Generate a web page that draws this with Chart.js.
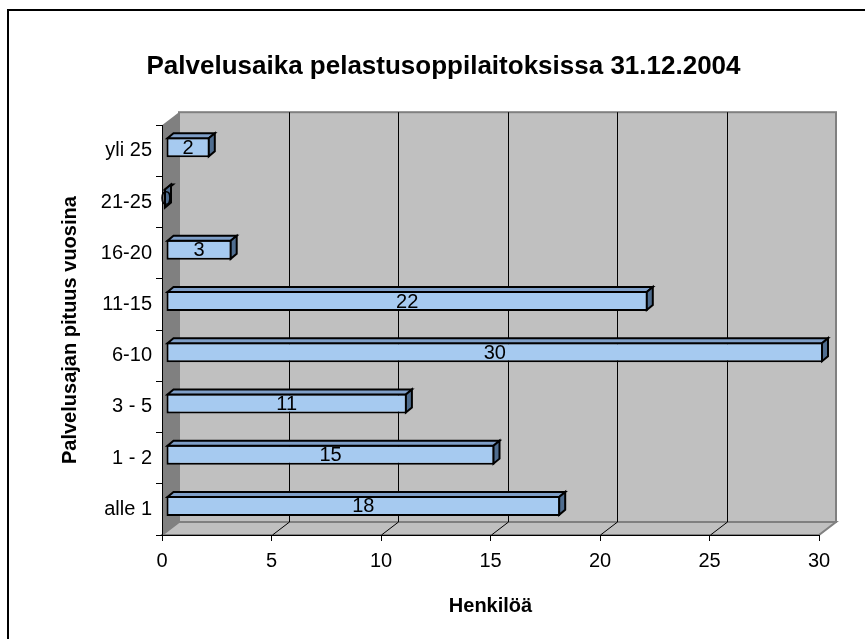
<!DOCTYPE html>
<html>
<head>
<meta charset="utf-8">
<script src="https://cdn.jsdelivr.net/npm/chart.js@4"></script>
<style>
	html, body { margin: 0; padding: 0; background: #fff; }
	#wrap { width: 865px; height: 639px; position: relative; }
</style>
</head>
<body>
<div id="wrap"><canvas id="chart"></canvas></div>
<script>
const categories = ['alle 1', '1 - 2', '3 - 5', '6-10', '11-15', '16-20', '21-25', 'yli 25'];
const henkiloa = [18, 15, 11, 30, 22, 3, 0, 2];
const xTicks = [0, 5, 10, 15, 20, 25, 30];

const FONT = "'Liberation Sans', Arial, sans-serif";
const DX = 17, DY = 13;       // wall depth
const BDX = 6, BDY = 5;       // bar depth
const SHIFT_X = 4, SHIFT_Y = -3.5;

const walls = {
	id: 'walls',
	beforeDraw: (chart) => {
		const ctx = chart.ctx;
		const {left, right, top, bottom} = chart.chartArea;
		const xs = chart.scales.x;
		ctx.save();
		ctx.fillStyle = '#fff';
		ctx.fillRect(0, 0, chart.width, chart.height);

		// outer frame
		ctx.strokeStyle = '#000';
		ctx.lineWidth = 2;
		ctx.strokeRect(8, 10, chart.width + 20, chart.height + 20);

		// back wall
		ctx.fillStyle = '#c0c0c0';
		ctx.fillRect(left + DX, top - DY, right - left, bottom - top);
		ctx.strokeStyle = '#808080';
		ctx.lineWidth = 2;
		ctx.strokeRect(left + DX, top - DY, right - left, bottom - top);

		// floor
		ctx.beginPath();
		ctx.moveTo(left, bottom);
		ctx.lineTo(left + DX, bottom - DY);
		ctx.lineTo(right + DX, bottom - DY);
		ctx.lineTo(right, bottom);
		ctx.closePath();
		ctx.fillStyle = '#c0c0c0';
		ctx.fill();
		ctx.strokeStyle = '#808080';
		ctx.stroke();

		// side wall
		ctx.beginPath();
		ctx.moveTo(left, top);
		ctx.lineTo(left + DX, top - DY);
		ctx.lineTo(left + DX, bottom - DY);
		ctx.lineTo(left, bottom);
		ctx.closePath();
		ctx.fillStyle = '#808080';
		ctx.fill();

		// gridlines on back wall + floor
		ctx.strokeStyle = '#000';
		ctx.lineWidth = 1;
		xTicks.forEach(v => {
			if (v === xTicks[0] || v === xTicks[xTicks.length - 1]) return;
			const px = Math.round(xs.getPixelForValue(v)) + 0.5;
			ctx.beginPath();
			ctx.moveTo(px + DX, top - DY);
			ctx.lineTo(px + DX, bottom - DY);
			ctx.lineTo(px, bottom);
			ctx.stroke();
		});
		ctx.restore();
	}
};

const bars3d = {
	id: 'bars3d',
	beforeDatasetsDraw: (chart) => {
		chart.ctx.save();
		chart.ctx.translate(SHIFT_X, SHIFT_Y);
	},
	afterDatasetsDraw: (chart) => {
		const ctx = chart.ctx;
		const meta = chart.getDatasetMeta(0);
		ctx.lineWidth = 2;
		ctx.lineJoin = 'miter';
		ctx.strokeStyle = '#000';
		meta.data.forEach((bar, i) => {
			const p = bar.getProps(['x', 'y', 'base', 'height'], true);
			const l = p.base, r = p.x, t = p.y - p.height / 2 + 1, b = p.y + p.height / 2 - 1;
			ctx.beginPath();
			ctx.moveTo(l + 1, t);
			ctx.lineTo(l + 1 + BDX, t - BDY);
			ctx.lineTo(r - 1 + BDX, t - BDY);
			ctx.lineTo(r - 1, t);
			ctx.closePath();
			ctx.fillStyle = '#7f9fc8';
			ctx.fill();
			ctx.stroke();
			ctx.beginPath();
			ctx.moveTo(r - 1, t);
			ctx.lineTo(r - 1 + BDX, t - BDY);
			ctx.lineTo(r - 1 + BDX, b - BDY);
			ctx.lineTo(r - 1, b);
			ctx.closePath();
			ctx.fillStyle = '#4f6d8f';
			ctx.fill();
			ctx.stroke();

			ctx.fillStyle = '#000';
			ctx.font = '20px ' + FONT;
			ctx.textAlign = 'center';
			ctx.textBaseline = 'middle';
			ctx.fillText(String(henkiloa[i]), (l + r) / 2, p.y + 1);
		});
		ctx.restore();
	}
};

new Chart(document.getElementById('chart'), {
	type: 'bar',
	data: {
		labels: categories,
		datasets: [{
			data: henkiloa,
			backgroundColor: '#a6caf0',
			borderColor: '#000',
			borderWidth: 2,
			borderSkipped: false,
			categoryPercentage: 1,
			barPercentage: 0.39,
		}]
	},
	options: {
		indexAxis: 'y',
		responsive: true,
		maintainAspectRatio: false,
		animation: false,
		layout: { padding: { left: 68, right: 46, top: 0, bottom: 0 } },
		scales: {
			x: {
				min: 0,
				max: 30,
				afterBuildTicks: (s) => { s.ticks = xTicks.map(v => ({value: v})); },
				afterFit: (s) => { s.height = 104; },
				grid: { drawOnChartArea: false, drawTicks: true, tickLength: 6, color: '#000' },
				border: { display: true, color: '#000', width: 1 },
				ticks: { color: '#000', font: { size: 20, family: FONT }, padding: 8, maxRotation: 0 },
				title: {
					display: true,
					text: 'Henkilöä',
					color: '#000',
					font: { size: 20, weight: 'bold', family: FONT },
					padding: { top: 0, bottom: 21 }
				}
			},
			y: {
				reverse: true,
				afterFit: (s) => { s.width = 94; },
				grid: { drawOnChartArea: false, drawTicks: true, tickLength: 6, color: '#000', offset: true },
				border: { display: true, color: '#000', width: 1 },
				ticks: { color: '#000', font: { size: 20, family: FONT }, padding: 4 },
				title: {
					display: true,
					text: 'Palvelusajan pituus vuosina',
					color: '#000',
					font: { size: 20, weight: 'bold', family: FONT },
					padding: { top: -10, bottom: 0 }
				}
			}
		},
		plugins: {
			legend: { display: false },
			tooltip: { enabled: false },
			title: {
				display: true,
				text: 'Palvelusaika pelastusoppilaitoksissa 31.12.2004',
				color: '#000',
				font: { size: 26, weight: 'bold', family: FONT },
				padding: { top: 51, bottom: 43 }
			}
		}
	},
	plugins: [walls, bars3d]
});
</script>
</body>
</html>
